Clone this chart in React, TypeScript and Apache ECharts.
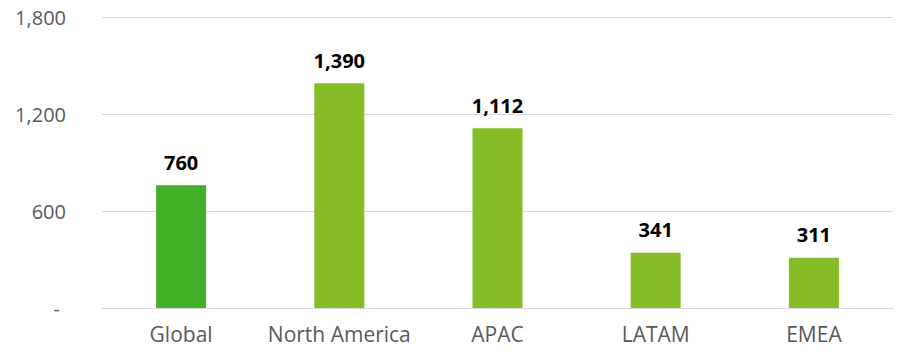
import React, { useEffect, useRef } from "react";
import * as echarts from "echarts";

const categories = ["Global", "North America", "APAC", "LATAM", "EMEA"];
const values = [760, 1390, 1112, 341, 311];
const barColors = ["#43B02A", "#86BC25", "#86BC25", "#86BC25", "#86BC25"];
const yTicks = [0, 600, 1200, 1800];

const fmt = (v: number) => v.toLocaleString("en-US");

export default function App() {
  const ref = useRef<HTMLDivElement>(null);
  useEffect(() => {
    if (!ref.current) return;
    document.body.style.margin = "0";
    const chart = echarts.init(ref.current, null, { renderer: "svg" });
    chart.setOption({
      animation: false,
      grid: { left: 102, right: 5, top: 17, bottom: 44, containLabel: false },
      xAxis: {
        type: "category",
        data: categories,
        axisLine: { show: true, lineStyle: { color: "#d9d9d9", width: 1 } },
        axisTick: { show: false },
        axisLabel: {
          interval: 0,
          color: "#595959",
          fontFamily: "Open Sans",
          fontSize: 21,
          margin: 15,
        },
      },
      yAxis: {
        type: "value",
        min: yTicks[0],
        max: yTicks[yTicks.length - 1],
        interval: 600,
        axisLine: { show: false },
        axisTick: { show: false },
        splitLine: { lineStyle: { color: "#d9d9d9", width: 1 } },
        axisLabel: {
          color: "#595959",
          fontFamily: "Open Sans",
          fontSize: 20,
          margin: 36,
          formatter: (v: number) => (v === 0 ? "{d|-}" : fmt(v)),
          rich: {
            d: { color: "#595959", fontFamily: "Open Sans", fontSize: 20, padding: [0, 6, 0, 0] },
          },
        },
      },
      series: [
        {
          type: "bar",
          barWidth: 50,
          data: values.map((v, i) => ({ value: v, itemStyle: { color: barColors[i] } })),
          label: {
            show: true,
            position: "top",
            distance: 13,
            color: "#000000",
            fontFamily: "Open Sans",
            fontWeight: "bold",
            fontSize: 20,
            formatter: (p: any) => fmt(p.value),
          },
        },
      ],
    });
    return () => chart.dispose();
  }, []);
  return <div ref={ref} style={{ width: 898, height: 352 }} />;
}
